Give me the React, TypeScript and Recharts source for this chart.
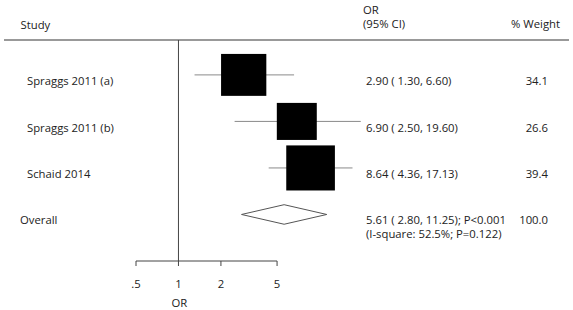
import { ComposedChart, Scatter, ErrorBar, XAxis, YAxis, ReferenceLine } from "recharts";

const studies = ["Spraggs 2011 (a)", "Spraggs 2011 (b)", "Schaid 2014"];
const orValues = [2.9, 6.9, 8.64];
const ciLower = [1.3, 2.5, 4.36];
const ciUpper = [6.6, 19.6, 17.13];
const weights = [34.1, 26.6, 39.4];

const overallLabel = "Overall";
const overallOr = 5.61;
const overallLower = 2.8;
const overallUpper = 11.25;
const overallWeight = 100.0;
const overallP = "P<0.001";
const heterogeneity = "(I-square: 52.5%; P=0.122)";

const xTicks = [0.5, 1, 2, 5];
const xTickLabels = [".5", "1", "2", "5"];

const rowLabels = [...studies, overallLabel];
const rows = [0, 1, 2, 3];

const studyData = studies.map((name, i) => ({
    x: orValues[i],
    y: i,
    err: [orValues[i] - ciLower[i], ciUpper[i] - orValues[i]],
    weight: weights[i],
}));

const overallRow = studies.length;
const diamondHalf = 0.21;
const diamondData = [
    { x: overallLower, y: overallRow },
    { x: overallOr, y: overallRow - diamondHalf },
    { x: overallUpper, y: overallRow },
    { x: overallOr, y: overallRow + diamondHalf },
    { x: overallLower, y: overallRow },
];

const textColor = "#222";
const font = "'Open Sans', sans-serif";
const fs = 11.3;

function fmt(v: number) {
    return v.toFixed(2);
}

// one tick per row: study name on the left, OR text and weight on the right
function RowTick(props: any) {
    const { y, payload } = props;
    const i = payload.value;
    const isOverall = i === overallRow;
    const orText = isOverall
        ? `${fmt(overallOr)} ( ${fmt(overallLower)}, ${fmt(overallUpper)}); ${overallP}`
        : `${fmt(orValues[i])} ( ${fmt(ciLower[i])}, ${fmt(ciUpper[i])})`;
    const w = isOverall ? overallWeight : weights[i];
    const ty = isOverall ? y + 9.5 : y + 10.5;
    return (
        <g fontSize={fs} fill={textColor} fontFamily={font}>
            <text x={isOverall ? 20 : 27} y={ty}>{rowLabels[i]}</text>
            <text x={366} y={ty}>{orText}</text>
            <text x={548} y={ty} textAnchor="end">{w.toFixed(1)}</text>
            {isOverall && <text x={366} y={y + 23.5}>{heterogeneity}</text>}
        </g>
    );
}

function WeightedSquare(props: any) {
    const { cx, cy, payload } = props;
    const s = Math.sqrt(payload.weight);
    const w = 7.75 * s;
    const h = 7.18 * s;
    return <rect x={cx - w / 2} y={cy - h / 2} width={w} height={h} fill="#000" />;
}

export default function App() {
    return (
        <div style={{ position: "absolute", left: 0, top: 0, background: "#fff" }}>
            <ComposedChart
                width={573}
                height={310}
                margin={{ top: 40, right: 211, bottom: 0, left: 0 }}
                style={{ fontFamily: font }}
            >
                <XAxis
                    dataKey="x"
                    type="number"
                    scale="log"
                    domain={[0.5, 20]}
                    ticks={xTicks}
                    tickFormatter={(v) => xTickLabels[xTicks.indexOf(v)]}
                    axisLine={false}
                    tickLine={{ stroke: "#444" }}
                    tickSize={5}
                    tickMargin={14}
                    height={49}
                    tick={{ fontSize: fs, fill: textColor }}
                />
                <YAxis
                    dataKey="y"
                    type="number"
                    reversed
                    domain={[-0.75, 4]}
                    ticks={rows}
                    width={136}
                    axisLine={false}
                    tickLine={false}
                    tick={<RowTick />}
                />
                <ReferenceLine
                    x={1}
                    stroke="#444"
                    strokeWidth={1}
                    label={{ value: "OR", position: "bottom", offset: 38, dx: 1, fontSize: fs, fill: textColor }}
                />
                <ReferenceLine
                    segment={[{ x: 0.5, y: 4 }, { x: 5, y: 4 }]}
                    stroke="#444"
                    strokeWidth={1}
                />
                <Scatter data={studyData} shape={<WeightedSquare />} isAnimationActive={false}>
                    <ErrorBar dataKey="err" direction="x" width={0} stroke="#8a8a8a" strokeWidth={1} />
                </Scatter>
                <Scatter
                    data={diamondData}
                    line={{ stroke: "#555", strokeWidth: 1 }}
                    lineType="joint"
                    shape={() => <g />}
                    isAnimationActive={false}
                />
                <line x1={4} x2={569} y1={40} y2={40} stroke="#999" strokeWidth={2} />
                <g fontSize={fs} fill={textColor} fontFamily={font}>
                    <text x={20.5} y={28.5}>Study</text>
                    <text x={363} y={13.5}>OR</text>
                    <text x={363} y={28}>(95% CI)</text>
                    <text x={511} y={28}>% Weight</text>
                </g>
            </ComposedChart>
        </div>
    );
}
